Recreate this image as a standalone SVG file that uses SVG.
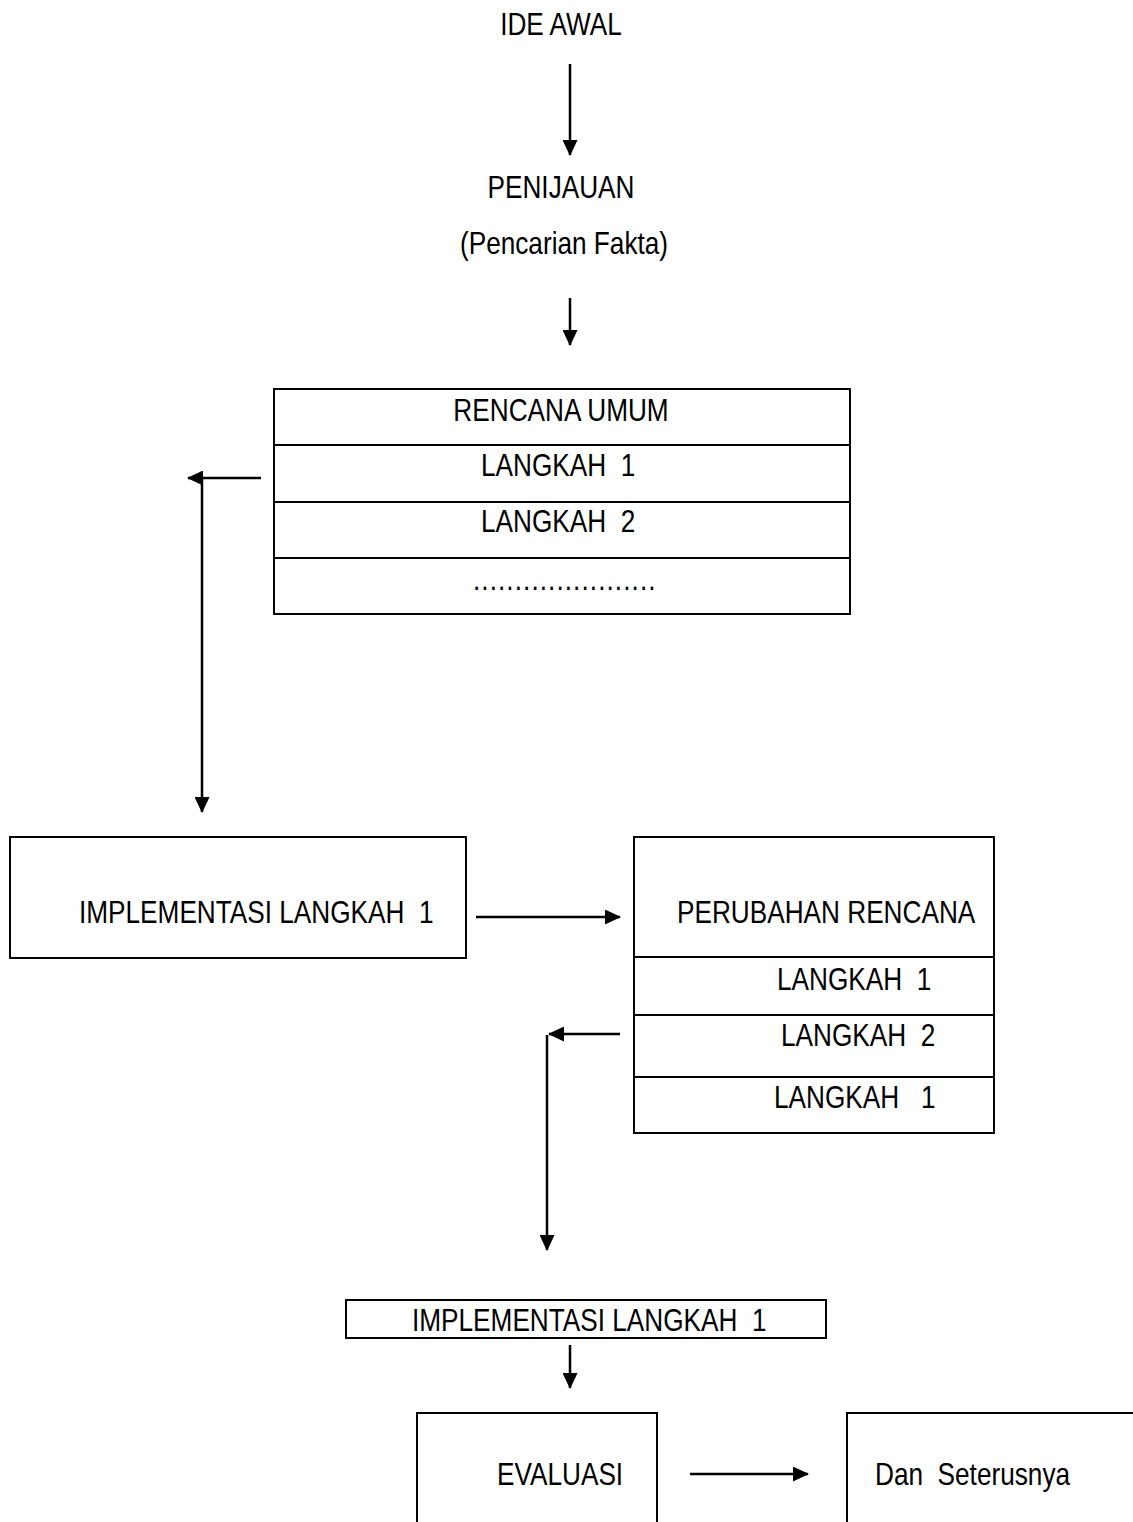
<svg xmlns="http://www.w3.org/2000/svg" width="1133" height="1522" viewBox="0 0 1133 1522">
<defs>
<marker id="ah" markerWidth="16" markerHeight="15" refX="15" refY="7.5" orient="auto" markerUnits="userSpaceOnUse">
<path d="M0,0 L16,7.5 L0,15 Z" fill="#000"/>
</marker>
<style>
text{font-family:"Liberation Sans",Arial,sans-serif;font-size:31px;fill:#000;white-space:pre}
.box{fill:none;stroke:#000;stroke-width:2}
.ln{stroke:#000;stroke-width:2.5;fill:none}
.c{text-anchor:middle}
</style>
</defs>
<rect width="1133" height="1522" fill="#fff"/>
<g id="ide-awal"><text transform="matrix(0.845 0 0 1 561 35)" class="c">IDE AWAL</text></g>
<g id="penijauan"><text transform="matrix(0.845 0 0 1 561 198)" class="c">PENIJAUAN</text><text transform="matrix(0.845 0 0 1 564 254)" class="c">(Pencarian Fakta)</text></g>
<g id="rencana-umum">
<rect class="box" x="274" y="389" width="576" height="225"/>
<line class="box" x1="274" y1="445" x2="850" y2="445"/>
<line class="box" x1="274" y1="502" x2="850" y2="502"/>
<line class="box" x1="274" y1="558" x2="850" y2="558"/>
<text transform="matrix(0.845 0 0 1 561 421)" class="c">RENCANA UMUM</text>
<text transform="matrix(0.845 0 0 1 481 476)">LANGKAH  1</text>
<text transform="matrix(0.845 0 0 1 481 532)">LANGKAH  2</text>
<text transform="matrix(0.845 0 0 1 473 590)" textLength="216" lengthAdjust="spacing">......................</text>
</g>
<g id="implementasi-1">
<rect class="box" x="10" y="837" width="456" height="121"/>
<text transform="matrix(0.845 0 0 1 79 923)">IMPLEMENTASI LANGKAH  1</text>
</g>
<g id="perubahan-rencana">
<rect class="box" x="634" y="837" width="360" height="296"/>
<line class="box" x1="634" y1="957" x2="994" y2="957"/>
<line class="box" x1="634" y1="1015" x2="994" y2="1015"/>
<line class="box" x1="634" y1="1077" x2="994" y2="1077"/>
<text transform="matrix(0.845 0 0 1 677 923)">PERUBAHAN RENCANA</text>
<text transform="matrix(0.845 0 0 1 777 990)">LANGKAH  1</text>
<text transform="matrix(0.845 0 0 1 781 1046)">LANGKAH  2</text>
<text transform="matrix(0.845 0 0 1 774 1108)">LANGKAH   1</text>
</g>
<g id="implementasi-2">
<rect class="box" x="346" y="1300" width="480" height="38"/>
<text transform="matrix(0.845 0 0 1 412 1331)">IMPLEMENTASI LANGKAH  1</text>
</g>
<g id="evaluasi">
<rect class="box" x="417" y="1413" width="240" height="130"/>
<text transform="matrix(0.845 0 0 1 497 1485)">EVALUASI</text>
</g>
<g id="dan-seterusnya">
<rect class="box" x="847" y="1413" width="300" height="130"/>
<text transform="matrix(0.845 0 0 1 875 1485)">Dan  Seterusnya</text>
</g>
<g id="connectors">
<line class="ln" x1="570" y1="64" x2="570" y2="155" marker-end="url(#ah)"/>
<line class="ln" x1="570" y1="298" x2="570" y2="345" marker-end="url(#ah)"/>
<line class="ln" x1="261" y1="478" x2="188" y2="478" marker-end="url(#ah)"/>
<line class="ln" x1="202" y1="478" x2="202" y2="812" marker-end="url(#ah)"/>
<line class="ln" x1="476" y1="917" x2="620" y2="917" marker-end="url(#ah)"/>
<line class="ln" x1="620" y1="1034" x2="549" y2="1034" marker-end="url(#ah)"/>
<line class="ln" x1="547" y1="1035" x2="547" y2="1250" marker-end="url(#ah)"/>
<line class="ln" x1="570" y1="1345" x2="570" y2="1388" marker-end="url(#ah)"/>
<line class="ln" x1="690" y1="1474" x2="808" y2="1474" marker-end="url(#ah)"/>
</g>
</svg>
